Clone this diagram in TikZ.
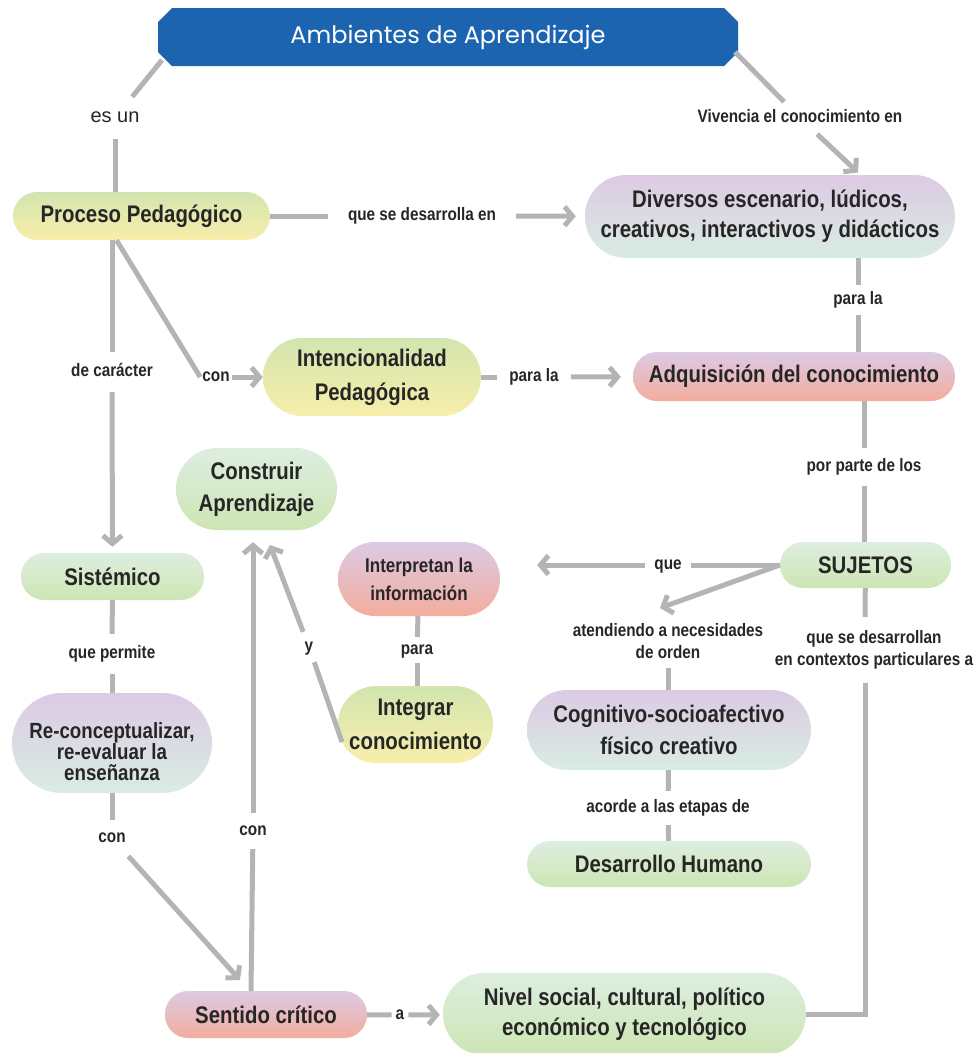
\documentclass[tikz,border=0pt]{standalone}
\usepackage{fontspec}
\setmainfont{Liberation Sans}
\newfontfamily\cf[FakeStretch=0.85]{Liberation Sans}
\newfontfamily\tf{Poppins}
\usetikzlibrary{arrows.meta,shapes.misc}
\definecolor{cline}{HTML}{B4B4B4}
\definecolor{txt}{HTML}{262626}
\definecolor{cblue}{HTML}{1C64AF}
\definecolor{cgreen}{HTML}{D2E5AF}
\definecolor{cyellow}{HTML}{F8EEAA}
\definecolor{clav}{HTML}{DCCAE4}
\definecolor{cmint}{HTML}{D9EDE2}
\definecolor{csalmon}{HTML}{F3AD9D}
\definecolor{cgreentwo}{HTML}{CDE5B3}
\definecolor{cminttwo}{HTML}{DDEEE0}
\tikzset{
  nd/.style={rectangle, align=center, inner sep=0pt, text=txt, font=\cf\bfseries\fontsize{24}{30}\selectfont},
  pill/.style n args={3}{minimum width=#1pt, minimum height=#2pt, rounded corners=#3pt},
  gy/.style={top color=cgreen, bottom color=cyellow},
  lm/.style={top color=clav, bottom color=cmint},
  ls/.style={top color=clav, bottom color=csalmon},
  mg/.style={top color=cminttwo, bottom color=cgreentwo},
  lbl/.style={font=\cf\bfseries\fontsize{18}{22}\selectfont, text=txt, align=center, inner xsep=6pt, inner ysep=10pt, text height=12pt, text depth=4pt},
  conn/.style={draw=cline, line width=5pt},
  arr/.style={conn, -{Straight Barb[length=8pt,width=19pt]}},
  ttl/.style={chamfered rectangle, chamfered rectangle xsep=7pt, chamfered rectangle ysep=7pt, fill=cblue, text=white, font=\tf\fontsize{24}{28}\selectfont, minimum width=580pt, minimum height=58pt, inner sep=0pt},
}
\begin{document}
\begin{tikzpicture}[x=1pt,y=-1pt]
\useasboundingbox (0,0) rectangle (979,1053);
% title
\node[ttl] (title) at (448,37) {Ambientes de Aprendizaje};
% concept nodes
\node[nd,gy,pill={257}{48}{24}] (proceso) at (141.5,216) {Proceso Pedagógico};
\node[nd,lm,pill={370}{83}{41}] (diversos) at (770,216.5) {Diversos escenario, lúdicos,\\creativos, interactivos y didácticos};
\node[nd,gy,pill={218}{78}{39},font=\cf\bfseries\fontsize{24}{34}\selectfont] (intenc) at (372,377) {Intencionalidad\\Pedagógica};
\node[nd,ls,pill={322}{49}{24}] (adq) at (794,376.5) {Adquisición del conocimiento};
\node[nd,mg,pill={161}{82}{41},font=\cf\bfseries\fontsize{24}{32}\selectfont] (construir) at (256.5,489) {Construir\\Aprendizaje};
\node[nd,mg,pill={183}{47}{23}] (sistemico) at (112.5,576.5) {Sistémico};
\node[nd,ls,pill={162}{74}{37},font=\cf\bfseries\fontsize{20}{28}\selectfont] (interp) at (419,579) {Interpretan la\\información};
\node[nd,mg,pill={171}{46}{23}] (sujetos) at (865.5,565) {SUJETOS};
\node[nd,lm,pill={200}{100}{50},font=\cf\bfseries\fontsize{22}{21}\selectfont,text height=74pt,text depth=0pt] (reconc) at (112,743) {Re-conceptualizar,\\re-evaluar la\\enseñanza};
\node[nd,gy,pill={155}{77}{38},font=\cf\bfseries\fontsize{24}{34}\selectfont] (integrar) at (415.5,724.5) {Integrar\\conocimiento};
\node[nd,lm,pill={284}{80}{40},font=\cf\bfseries\fontsize{24}{32}\selectfont] (cognit) at (669,730) {Cognitivo-socioafectivo\\físico creativo};
\node[nd,mg,pill={284}{46}{23}] (desarrollo) at (669,864) {Desarrollo Humano};
\node[nd,ls,pill={202}{47}{23}] (sentido) at (266,1014.5) {Sentido crítico};
\node[nd,mg,pill={363}{82}{41}] (nivel) at (624.5,1014) {Nivel social, cultural, político\\económico y tecnológico};
% linking labels
\node[lbl,font=\fontsize{20}{22}\selectfont,inner ysep=13pt] (esun) at (115,118) {es un};
\node[lbl,inner ysep=8pt] (vivencia) at (800,118) {Vivencia el conocimiento en};
\node[lbl,inner xsep=20pt] (qsd) at (422,216) {que se desarrolla en};
\node[lbl,inner ysep=7pt] (parala1) at (858,300) {para la};
\node[lbl,inner ysep=12pt] (decar) at (112,372) {de carácter};
\node[lbl,inner xsep=2pt] (con1) at (216,377) {con};
\node[lbl,inner xsep=12pt] (parala2) at (534,377) {para la};
\node[lbl,inner ysep=11pt] (porparte) at (864,467) {por parte de los};
\node[lbl,inner xsep=9pt] (que) at (668,565) {que};
\node[lbl,inner ysep=6pt] (atend) at (668,654) {atendiendo a necesidades\\de orden};
\node[lbl,inner ysep=12pt] (qsdl) at (874,661) {que se desarrollan\\en contextos particulares a};
\node[lbl,inner ysep=12pt] (quepermite) at (112,654) {que permite};
\node[lbl,inner ysep=5pt] (para) at (417,650) {para};
\node[lbl,inner sep=7pt] (ylbl) at (309,647) {y};
\node[lbl,inner ysep=10pt] (con2) at (112,838) {con};
\node[lbl,inner ysep=10pt] (con3) at (253,831) {con};
\node[lbl,inner ysep=9pt] (acorde) at (668,808) {acorde a las etapas de};
\node[lbl,inner xsep=4pt] (alabel) at (400,1015) {a};
% connectors
\draw[conn] ([shift={(-286pt,-23pt)}]title.center) -- (esun);
\draw[conn] (esun) -- (esun |- proceso.north);
\draw[conn] ([shift={(287pt,-15pt)}]title.center) -- (vivencia);
\draw[arr] (vivencia) -- ([shift={(88pt,44pt)}]diversos.center);
\draw[conn] (proceso) -- (qsd);
\draw[arr,shorten >=9pt] (qsd) -- (diversos);
\draw[conn] ([shift={(88pt,-41.5pt)}]diversos.center) -- (parala1);
\draw[conn] (parala1) -- (parala1 |- adq.north);
\draw[conn] (decar |- proceso.south) -- (decar);
\draw[arr,shorten >=6pt] (decar) -- (sistemico);
\draw[conn] ([xshift=-25pt]proceso.south) -- (con1.west);
\draw[arr] (con1) -- (intenc);
\draw[conn] (intenc) -- (parala2);
\draw[arr,shorten >=12pt] (parala2) -- (adq);
\draw[conn] (porparte |- adq.south) -- (porparte);
\draw[conn] (porparte) -- (porparte |- sujetos.north);
\draw[conn] (sujetos.west) -- (que);
\draw[arr,shorten >=37pt] (que) -- (que -| interp.east);
\draw[arr] (sujetos.west) -- ([shift={(-8pt,46pt)}]atend.center);
\draw[conn] (atend) -- (atend |- cognit.north);
\draw[conn] (sujetos) -- ([shift={(-9pt,44pt)}]qsdl.center);
\draw[conn] ([shift={(-9pt,-22pt)}]qsdl.center) |- (nivel.east);
\draw[conn] (cognit) -- (acorde);
\draw[conn] (acorde) -- (desarrollo);
\draw[conn] (interp) -- (para);
\draw[conn] (para) -- (para |- integrar.north);
\draw[conn] ([shift={(-73.5pt,-17.5pt)}]integrar.center) -- (ylbl);
\draw[arr] (ylbl) -- ([shift={(13.5pt,-56pt)}]construir.center);
\draw[conn] (sistemico) -- (quepermite);
\draw[conn] (quepermite) -- (reconc);
\draw[conn] (reconc) -- (con2);
\draw[arr] (con2) -- ([shift={(-26pt,34.5pt)}]sentido.center);
\draw[conn] ([shift={(-15pt,23.5pt)}]sentido.center) -- (con3);
\draw[arr,shorten >=12pt] (con3) -- (con3 |- construir.south);
\draw[conn] (sentido) -- (alabel);
\draw[arr,shorten >=3pt] (alabel) -- (nivel);
\end{tikzpicture}
\end{document}
